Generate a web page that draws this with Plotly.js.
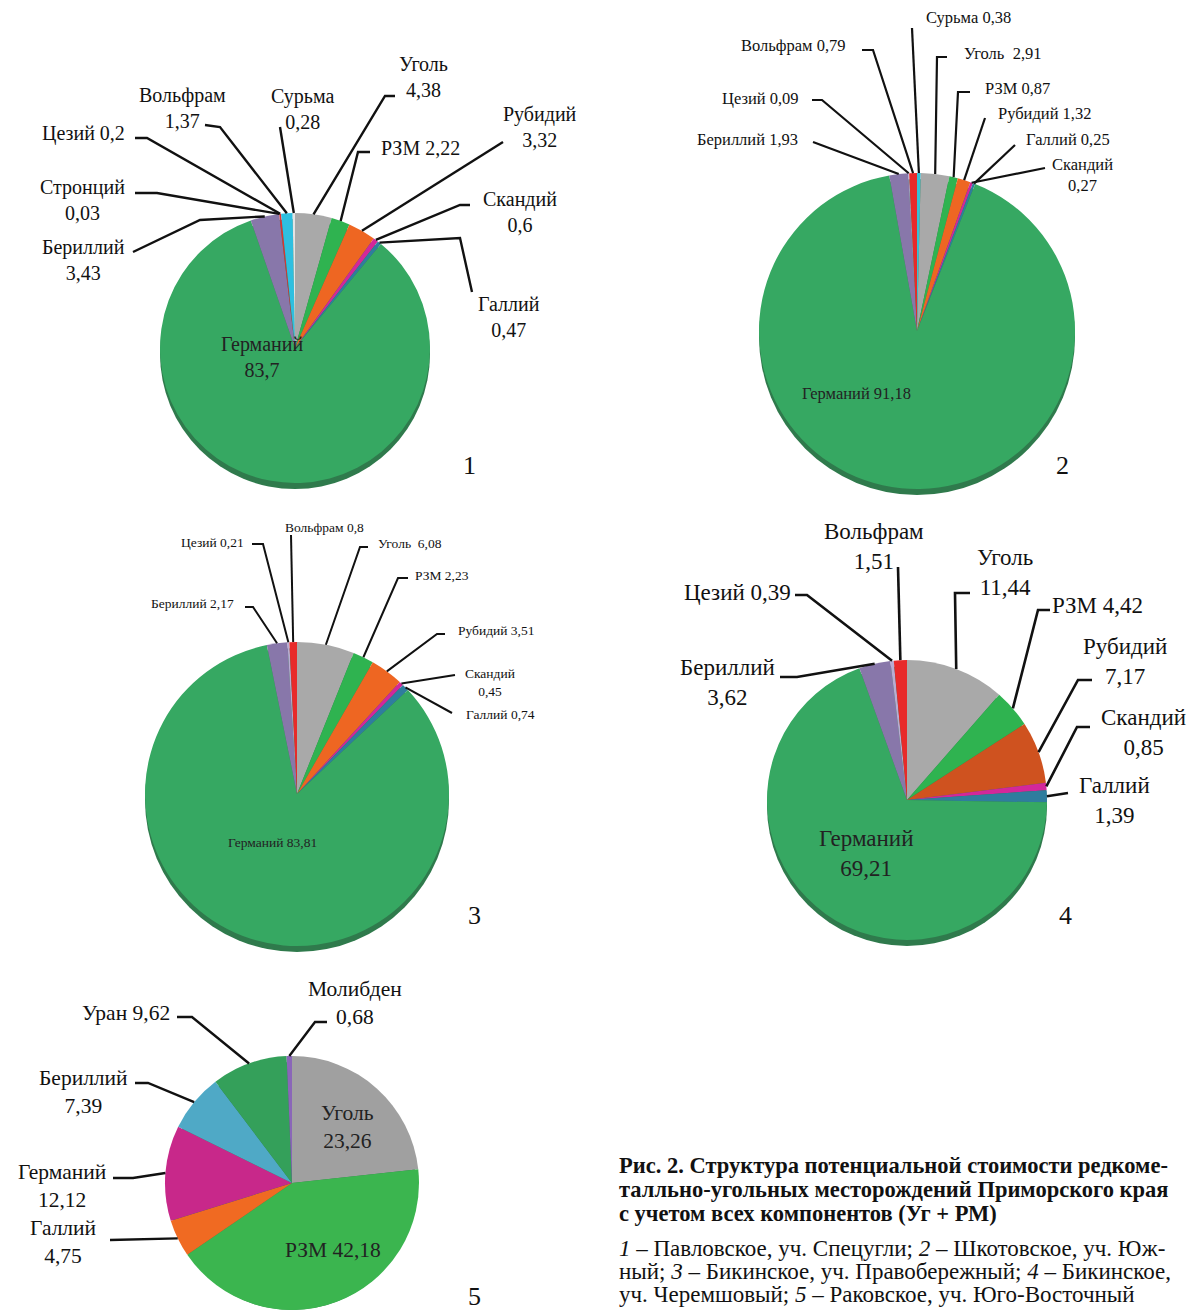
<!DOCTYPE html>
<html><head><meta charset="utf-8">
<script src="https://cdn.plot.ly/plotly-3.0.1.min.js"></script>
<style>html,body{margin:0;padding:0;background:#fff}#chart{width:1193px;height:1310px}</style>
</head><body><div id="chart"></div>
<script>
// ---------- DATA ----------
const p1Labels = ['Уголь','РЗМ','Рубидий','Скандий','Галлий','Германий','Бериллий','Стронций','Цезий','Вольфрам','Сурьма'];
const p1Values = [4.38, 2.22, 3.32, 0.6, 0.47, 83.7, 3.43, 0.03, 0.2, 1.37, 0.28];
const p2Labels = ['Сурьма','Уголь','РЗМ','Рубидий','Скандий','Галлий','Германий','Бериллий','Цезий','Вольфрам'];
const p2Values = [0.38, 2.91, 0.87, 1.32, 0.27, 0.25, 91.18, 1.93, 0.09, 0.79];
const p3Labels = ['Уголь','РЗМ','Рубидий','Скандий','Галлий','Германий','Бериллий','Цезий','Вольфрам'];
const p3Values = [6.08, 2.23, 3.51, 0.45, 0.74, 83.81, 2.17, 0.21, 0.8];
const p4Labels = ['Уголь','РЗМ','Рубидий','Скандий','Галлий','Германий','Бериллий','Цезий','Вольфрам'];
const p4Values = [11.44, 4.42, 7.17, 0.85, 1.39, 69.21, 3.62, 0.39, 1.51];
const p5Labels = ['Уголь','РЗМ','Галлий','Германий','Бериллий','Уран','Молибден'];
const p5Values = [23.26, 42.18, 4.75, 12.12, 7.39, 9.62, 0.68];
const pieNumbers = ['1','2','3','4','5'];

// ---------- STYLE ----------
const W = 1193, H = 1310;
const FONT = 'Liberation Serif, Times New Roman, serif';
const C = {
  'Уголь':'#a9a9a9','РЗМ':'#2fb350','Рубидий':'#ee6622','Скандий':'#d3279a','Галлий':'#2f7d9e',
  'Германий':'#36a862','Бериллий':'#8877aa','Цезий':'#b9acd3','Вольфрам':'#e82a2a','Сурьма':'#35c0d5',
  'Стронций':'#c84a4a','Уран':'#34a05a','Молибден':'#8a66b8'
};
function colorsFor(labels, over){ return labels.map(l => (over && over[l]) || C[l]); }

const px = x => x / W, py = y => 1 - y / H;

const pies = [
  {labels:p1Labels, values:p1Values, cx:295, cy:348, r:135, over:{'Цезий':'#e43030','Вольфрам':'#2ebfe0','Сурьма':'#e4e4e4'}, fs:20, lw:2.4,
   num:[470,465],
   lab:[
    {i:0, pts:[[385,96],[395,96]], t:'Уголь<br>4,38', x:423, y:77},
    {i:1, pts:[[358,152],[370,152]], t:'РЗМ 2,22', x:420, y:148},
    {i:2, pts:[[503,142]], t:'Рубидий<br>3,32', x:540, y:127},
    {i:3, pts:[[460,205],[470,205]], t:'Скандий<br>0,6', x:520, y:212},
    {i:4, pts:[[460,238],[472,292]], t:'Галлий<br>0,47', x:509, y:317},
    {i:6, pts:[[200,220],[133,252]], t:'Бериллий<br>3,43', x:83, y:260},
    {i:7, pts:[[157,193],[135,193]], t:'Стронций<br>0,03', x:82, y:200},
    {i:8, pts:[[147,138],[135,138]], t:'Цезий 0,2', x:83, y:133},
    {i:9, pts:[[220,127],[205,125]], t:'Вольфрам<br>1,37', x:182, y:108},
    {i:10, pts:[[280,127]], t:'Сурьма<br>0,28', x:302, y:109}
   ],
   inside:[{t:'Германий<br>83,7', x:262, y:357}]},
  {labels:p2Labels, values:p2Values, cx:917, cy:331, r:158, over:{}, fs:16.5, lw:2.2,
   num:[1062,465],
   lab:[
    {i:0, pts:[[912,28]], t:'Сурьма 0,38', x:968, y:18},
    {i:1, pts:[[937,57],[947,57]], t:'Уголь\u00a0\u00a02,91', x:1003, y:53},
    {i:2, pts:[[958,92],[970,92]], t:'РЗМ 0,87', x:1017, y:88},
    {i:3, pts:[[985,118]], t:'Рубидий 1,32', x:1045, y:113},
    {i:4, pts:[[1045,168]], t:'Скандий<br>0,27', x:1082, y:175},
    {i:5, pts:[[1015,145]], t:'Галлий 0,25', x:1068, y:140},
    {i:7, pts:[[813,142]], t:'Бериллий 1,93', x:747, y:140},
    {i:8, pts:[[822,100],[812,100]], t:'Цезий 0,09', x:760, y:98},
    {i:9, pts:[[873,50],[862,50]], t:'Вольфрам 0,79', x:793, y:45}
   ],
   inside:[{t:'Германий 91,18', x:856, y:393}]},
  {labels:p3Labels, values:p3Values, cx:297, cy:794, r:152, over:{}, fs:13.5, lw:2,
   num:[474,915],
   lab:[
    {i:0, pts:[[360,547],[368,547]], t:'Уголь\u00a0\u00a06,08', x:410, y:543},
    {i:1, pts:[[398,578],[408,578]], t:'РЗМ 2,23', x:442, y:575},
    {i:2, pts:[[437,634],[445,634]], t:'Рубидий 3,51', x:497, y:630},
    {i:3, pts:[[455,675]], t:'Скандий<br>0,45', x:490, y:682},
    {i:4, pts:[[452,713]], t:'Галлий 0,74', x:500, y:714},
    {i:6, pts:[[253,607],[245,607]], t:'Бериллий 2,17', x:192, y:603},
    {i:7, pts:[[263,544],[252,544]], t:'Цезий 0,21', x:212, y:542},
    {i:8, pts:[[291,535]], t:'Вольфрам 0,8', x:325, y:527}
   ],
   inside:[{t:'Германий 83,81', x:272, y:843}]},
  {labels:p4Labels, values:p4Values, cx:907, cy:800, r:140, over:{'Рубидий':'#cf521f'}, fs:23, lw:2.6,
   num:[1065,915],
   lab:[
    {i:0, pts:[[955,593],[970,593]], t:'Уголь<br>11,44', x:1005, y:572},
    {i:1, pts:[[1038,610],[1050,610]], t:'РЗМ 4,42', x:1097, y:605},
    {i:2, pts:[[1078,680],[1092,680]], t:'Рубидий<br>7,17', x:1125, y:661},
    {i:3, pts:[[1077,727],[1090,727]], t:'Скандий<br>0,85', x:1143, y:732},
    {i:4, pts:[[1068,793]], t:'Галлий<br>1,39', x:1114, y:800},
    {i:6, pts:[[797,677],[780,677]], t:'Бериллий<br>3,62', x:727, y:682},
    {i:7, pts:[[807,595],[795,595]], t:'Цезий 0,39', x:737, y:592},
    {i:8, pts:[[898,567]], t:'Вольфрам<br>1,51', x:874, y:546}
   ],
   inside:[{t:'Германий<br>69,21', x:866, y:853}]},
  {labels:p5Labels, values:p5Values, cx:292, cy:1183, r:127, over:{'Уголь':'#a0a0a0','РЗМ':'#3bb54f','Галлий':'#f06a22','Германий':'#c8288a','Бериллий':'#4fa9c6'}, fs:21.5, lw:2.4,
   num:[474,1296],
   lab:[
    {i:6, pts:[[315,1022],[327,1022]], t:'Молибден<br>0,68', x:355, y:1003},
    {i:5, pts:[[192,1017],[177,1017]], t:'Уран 9,62', x:126, y:1013},
    {i:4, pts:[[148,1083],[135,1083]], t:'Бериллий<br>7,39', x:83, y:1092},
    {i:3, pts:[[133,1178],[113,1178]], t:'Германий<br>12,12', x:62, y:1186},
    {i:2, pts:[[110,1240]], t:'Галлий<br>4,75', x:63, y:1242}
   ],
   inside:[{t:'Уголь<br>23,26', x:347, y:1127},{t:'РЗМ 42,18', x:333, y:1250}]}
];

const traces = [], shapes = [], annotations = [];

pies.forEach((p, k) => {
  const dom = (cy) => ({x:[px(p.cx - p.r), px(p.cx + p.r)], y:[py(cy + p.r), py(cy - p.r)]});
  // 3D rim / shadow
  traces.push({type:'pie', values:[1], labels:['rim'+k], marker:{colors:['#2f7a4c'], line:{width:0}},
    domain:dom(p.cy + 6), textinfo:'none', hoverinfo:'skip', showlegend:false, sort:false});
  traces.push({type:'pie', values:p.values, labels:p.labels, marker:{colors:colorsFor(p.labels, p.over), line:{width:0}},
    domain:dom(p.cy), direction:'clockwise', rotation:0, sort:false, textinfo:'none',
    hoverinfo:'label+value', showlegend:false});

  const total = p.values.reduce((a,b)=>a+b,0);
  const cum = []; let s = 0;
  p.values.forEach(v => { cum.push(s + v/2); s += v; });
  p.lab.forEach(L => {
    const th = cum[L.i] / total * 2 * Math.PI;
    const sx = p.cx + p.r * Math.sin(th), sy = p.cy - p.r * Math.cos(th);
    let d = 'M ' + px(sx) + ' ' + py(sy);
    L.pts.forEach(q => { d += ' L ' + px(q[0]) + ' ' + py(q[1]); });
    shapes.push({type:'path', xref:'paper', yref:'paper', path:d, line:{color:'#111', width:p.lw}});
    annotations.push({xref:'paper', yref:'paper', x:px(L.x), y:py(L.y), text:L.t, showarrow:false,
      xanchor:'center', yanchor:'middle', font:{family:FONT, size:p.fs, color:'#111'}});
  });
  p.inside.forEach(L => {
    annotations.push({xref:'paper', yref:'paper', x:px(L.x), y:py(L.y), text:L.t, showarrow:false,
      xanchor:'center', yanchor:'middle', font:{family:FONT, size:p.fs, color:'#222'}});
  });
  annotations.push({xref:'paper', yref:'paper', x:px(p.num[0]), y:py(p.num[1]), text:pieNumbers[k], showarrow:false,
    xanchor:'center', yanchor:'middle', font:{family:FONT, size:26, color:'#111'}});
});

// caption
const capBold = ['Рис. 2. Структура потенциальной стоимости редкоме-',
                 'талльно-угольных месторождений Приморского края',
                 'с учетом всех компонентов (Уг + РМ)'];
const capText = ['<i>1</i> – Павловское, уч. Спецугли; <i>2</i> – Шкотовское, уч. Юж-',
                 'ный; <i>3</i> – Бикинское, уч. Правобережный; <i>4</i> – Бикинское,',
                 'уч. Черемшовый; <i>5</i> – Раковское, уч. Юго-Восточный'];
const capBoldY = [1165, 1189, 1213], capTextY = [1248, 1271, 1294];
capBold.forEach((t,i) => annotations.push({xref:'paper', yref:'paper', x:px(617), y:py(capBoldY[i]), text:'<b>'+t+'</b>',
  showarrow:false, xanchor:'left', yanchor:'middle', font:{family:FONT, size:22.5, color:'#111'}}));
capText.forEach((t,i) => annotations.push({xref:'paper', yref:'paper', x:px(617), y:py(capTextY[i]), text:t,
  showarrow:false, xanchor:'left', yanchor:'middle', font:{family:FONT, size:23, color:'#111'}}));

Plotly.newPlot('chart', traces, {
  width:W, height:H, margin:{l:0,r:0,t:0,b:0,pad:0},
  paper_bgcolor:'#fff', plot_bgcolor:'#fff', showlegend:false,
  shapes:shapes, annotations:annotations
}, {staticPlot:true});
</script></body></html>
